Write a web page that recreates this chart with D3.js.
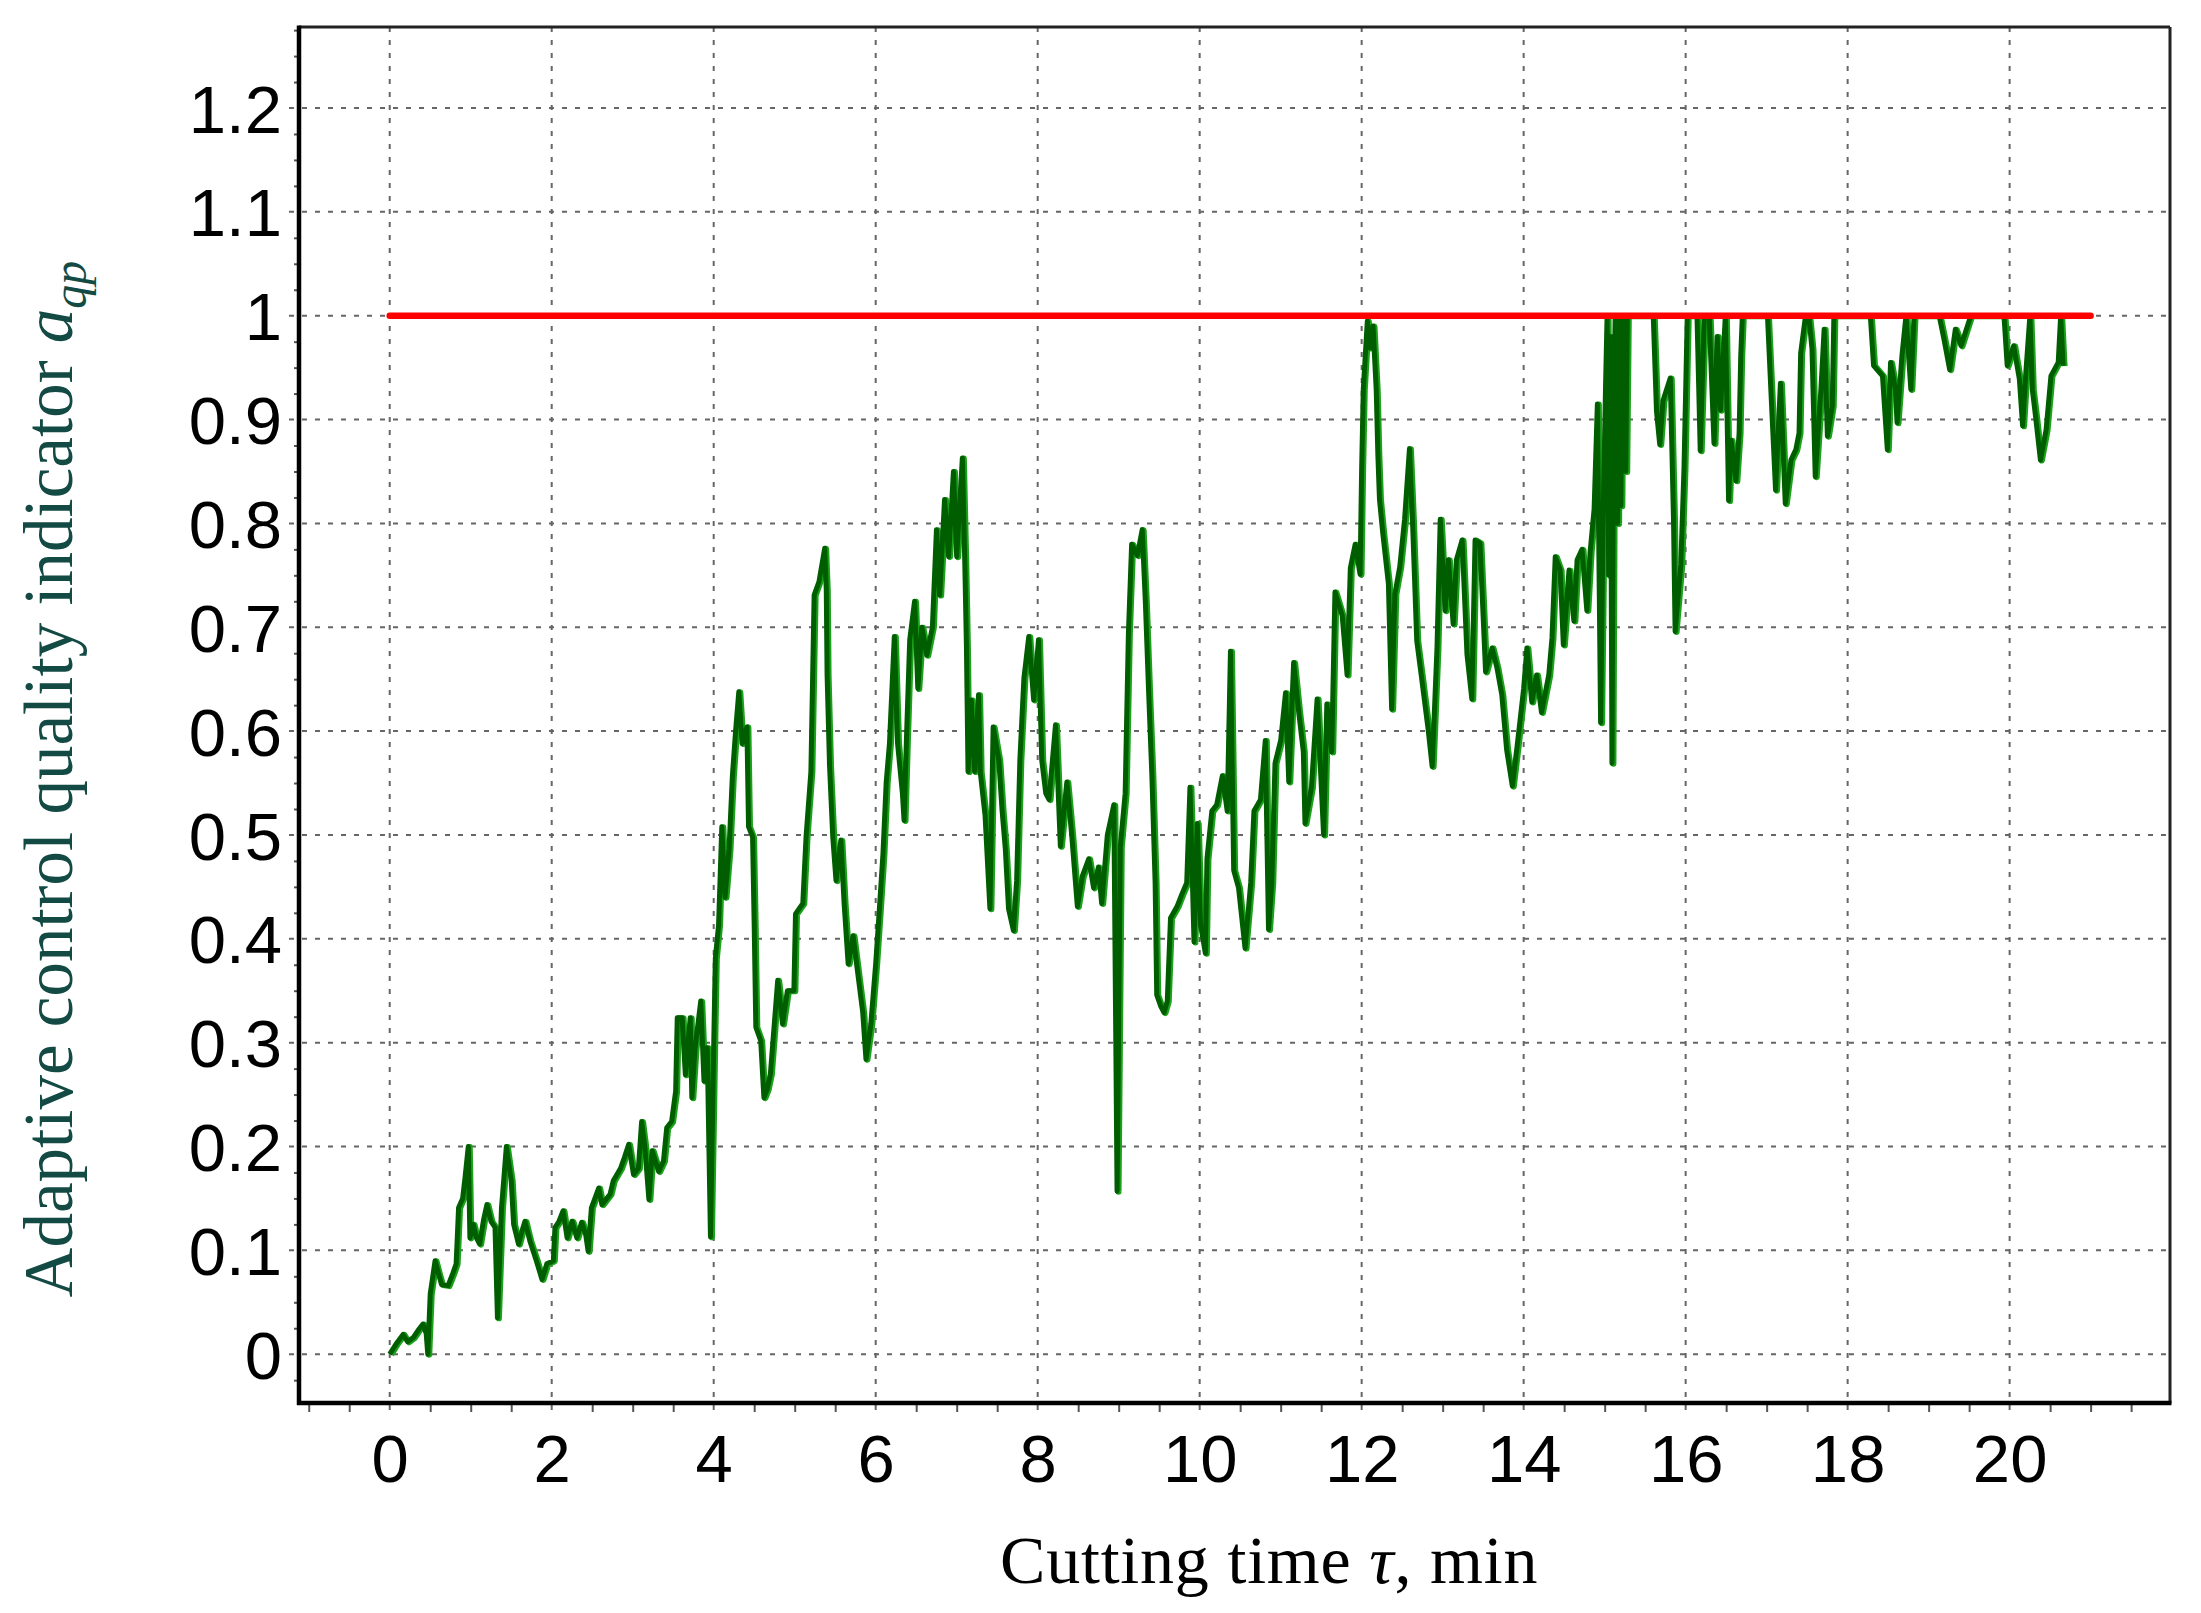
<!DOCTYPE html>
<html>
<head>
<meta charset="utf-8">
<script src="https://cdn.jsdelivr.net/npm/d3@7"></script>
<style>
  body { margin: 0; background: #fff; }
  svg { display: block; }
</style>
</head>
<body>
<div id="vis1"></div>
<script>
const FRAME_WIDTH = 2201;
const FRAME_HEIGHT = 1613;
const MARGINS = {left: 299, right: 31, top: 27, bottom: 210};

// cutting time (min) and adaptive control quality indicator a_qp
const times = [
  0.00, 0.08, 0.165, 0.22, 0.29, 0.36, 0.41, 0.45, 0.47, 0.50, 0.56, 0.60, 0.64, 0.72, 0.78, 0.82, 0.85, 0.90, 0.93, 0.97,
  0.99, 1.03, 1.07, 1.11, 1.16, 1.20, 1.25, 1.30, 1.33, 1.38, 1.41, 1.44, 1.50, 1.53, 1.59, 1.63, 1.67, 1.73, 1.81, 1.88,
  1.94, 2.02, 2.04, 2.09, 2.14, 2.19, 2.25, 2.31, 2.37, 2.42, 2.45, 2.49, 2.58, 2.62, 2.72, 2.76, 2.85, 2.90, 2.95, 3.01,
  3.07, 3.11, 3.15, 3.20, 3.24, 3.32, 3.38, 3.42, 3.48, 3.53, 3.55, 3.61, 3.65, 3.71, 3.73, 3.77, 3.84, 3.88, 3.92, 3.96,
  4.00, 4.02, 4.06, 4.10, 4.14, 4.19, 4.23, 4.27, 4.31, 4.35, 4.41, 4.43, 4.48, 4.50, 4.52, 4.58, 4.62, 4.66, 4.70, 4.75,
  4.79, 4.85, 4.91, 4.99, 5.01, 5.10, 5.14, 5.20, 5.24, 5.30, 5.37, 5.39, 5.40, 5.43, 5.47, 5.51, 5.57, 5.61, 5.66, 5.72,
  5.78, 5.84, 5.88, 5.94, 6.00, 6.05, 6.09, 6.13, 6.17, 6.23, 6.27, 6.33, 6.35, 6.38, 6.42, 6.48, 6.52, 6.57, 6.63, 6.70,
  6.75, 6.79, 6.85, 6.90, 6.96, 7.00, 7.07, 7.10, 7.12, 7.14, 7.18, 7.22, 7.27, 7.29, 7.35, 7.41, 7.45, 7.52, 7.56, 7.60,
  7.64, 7.70, 7.74, 7.78, 7.83, 7.89, 7.95, 8.01, 8.05, 8.10, 8.14, 8.22, 8.28, 8.36, 8.42, 8.49, 8.55, 8.63, 8.69, 8.75,
  8.79, 8.86, 8.94, 8.98, 9.02, 9.08, 9.12, 9.16, 9.23, 9.29, 9.33, 9.37, 9.41, 9.45, 9.47, 9.52, 9.56, 9.60, 9.64, 9.72,
  9.78, 9.84, 9.88, 9.93, 9.97, 10.01, 10.07, 10.09, 10.15, 10.21, 10.28, 10.34, 10.38, 10.42, 10.48, 10.56, 10.63, 10.67, 10.75, 10.81,
  10.85, 10.89, 10.93, 11.00, 11.06, 11.10, 11.16, 11.22, 11.28, 11.30, 11.38, 11.45, 11.53, 11.57, 11.63, 11.67, 11.76, 11.82, 11.86, 11.92,
  11.98, 12.00, 12.02, 12.07, 12.10, 12.14, 12.18, 12.20, 12.22, 12.26, 12.33, 12.37, 12.41, 12.47, 12.53, 12.59, 12.63, 12.68, 12.74, 12.82,
  12.87, 12.93, 12.97, 13.03, 13.07, 13.13, 13.17, 13.24, 13.30, 13.36, 13.40, 13.46, 13.53, 13.61, 13.67, 13.73, 13.79, 13.86, 13.92, 14.00,
  14.04, 14.10, 14.16, 14.22, 14.31, 14.35, 14.39, 14.45, 14.49, 14.56, 14.62, 14.66, 14.72, 14.78, 14.82, 14.87, 14.91, 14.95, 14.98, 15.01,
  15.03, 15.05, 15.07, 15.09, 15.11, 15.13, 15.16, 15.18, 15.20, 15.22, 15.26, 15.28, 15.60, 15.64, 15.68, 15.72, 15.81, 15.85, 15.87, 15.94,
  15.98, 16.02, 16.14, 16.16, 16.18, 16.23, 16.29, 16.35, 16.39, 16.43, 16.49, 16.53, 16.56, 16.62, 16.66, 16.68, 16.70, 17.01, 17.05, 17.11,
  17.17, 17.23, 17.30, 17.36, 17.40, 17.42, 17.48, 17.52, 17.56, 17.60, 17.67, 17.71, 17.75, 17.81, 17.83, 18.28, 18.32, 18.43, 18.49, 18.53,
  18.59, 18.61, 18.67, 18.72, 18.78, 18.82, 19.13, 19.19, 19.26, 19.33, 19.40, 19.52, 19.93, 19.97, 20.05, 20.12, 20.16, 20.20, 20.25, 20.28,
  20.32, 20.38, 20.45, 20.51, 20.60, 20.63, 20.66
];
const aqp = [
  0.000, 0.010, 0.019, 0.012, 0.016, 0.024, 0.029, 0.020, 0.000, 0.058, 0.090, 0.078, 0.067, 0.066, 0.078, 0.087, 0.141, 0.150, 0.170, 0.200,
  0.112, 0.125, 0.112, 0.106, 0.130, 0.144, 0.128, 0.122, 0.035, 0.141, 0.170, 0.200, 0.167, 0.125, 0.106, 0.118, 0.128, 0.109, 0.090, 0.072,
  0.087, 0.090, 0.122, 0.128, 0.138, 0.112, 0.128, 0.112, 0.127, 0.115, 0.099, 0.141, 0.160, 0.144, 0.154, 0.167, 0.179, 0.190, 0.202, 0.173,
  0.179, 0.224, 0.199, 0.149, 0.196, 0.176, 0.186, 0.218, 0.224, 0.253, 0.324, 0.324, 0.269, 0.324, 0.247, 0.295, 0.340, 0.263, 0.295, 0.113,
  0.297, 0.381, 0.413, 0.508, 0.440, 0.487, 0.556, 0.600, 0.638, 0.588, 0.604, 0.508, 0.498, 0.413, 0.315, 0.302, 0.247, 0.255, 0.270, 0.320,
  0.360, 0.318, 0.350, 0.350, 0.424, 0.434, 0.498, 0.561, 0.731, 0.744, 0.776, 0.736, 0.654, 0.567, 0.498, 0.456, 0.495, 0.434, 0.376, 0.403,
  0.366, 0.329, 0.284, 0.318, 0.376, 0.434, 0.482, 0.551, 0.588, 0.691, 0.588, 0.540, 0.514, 0.593, 0.688, 0.725, 0.641, 0.700, 0.673, 0.700,
  0.794, 0.731, 0.823, 0.768, 0.850, 0.768, 0.863, 0.762, 0.683, 0.561, 0.630, 0.561, 0.635, 0.561, 0.519, 0.429, 0.604, 0.572, 0.524, 0.487,
  0.429, 0.408, 0.456, 0.572, 0.651, 0.691, 0.630, 0.688, 0.572, 0.540, 0.534, 0.606, 0.489, 0.551, 0.500, 0.431, 0.460, 0.477, 0.449, 0.469,
  0.434, 0.500, 0.529, 0.157, 0.489, 0.540, 0.694, 0.780, 0.769, 0.794, 0.723, 0.637, 0.557, 0.454, 0.346, 0.335, 0.329, 0.340, 0.420, 0.431,
  0.443, 0.454, 0.546, 0.397, 0.511, 0.414, 0.386, 0.477, 0.523, 0.529, 0.557, 0.523, 0.677, 0.466, 0.449, 0.391, 0.454, 0.523, 0.534, 0.591,
  0.409, 0.454, 0.569, 0.591, 0.637, 0.551, 0.666, 0.620, 0.580, 0.511, 0.546, 0.631, 0.500, 0.626, 0.580, 0.734, 0.711, 0.654, 0.757, 0.780,
  0.751, 0.854, 0.929, 0.995, 0.969, 0.990, 0.928, 0.866, 0.823, 0.791, 0.742, 0.621, 0.732, 0.758, 0.804, 0.872, 0.797, 0.687, 0.651, 0.602,
  0.566, 0.680, 0.804, 0.716, 0.765, 0.703, 0.765, 0.784, 0.674, 0.631, 0.784, 0.781, 0.657, 0.680, 0.661, 0.635, 0.582, 0.547, 0.586, 0.641,
  0.680, 0.628, 0.654, 0.618, 0.654, 0.690, 0.768, 0.755, 0.683, 0.755, 0.706, 0.765, 0.775, 0.716, 0.772, 0.814, 0.915, 0.608, 0.800, 0.928,
  1.000, 0.750, 0.980, 0.569, 0.900, 1.000, 0.800, 1.000, 0.817, 1.000, 0.850, 1.000, 1.000, 0.908, 0.876, 0.918, 0.940, 0.804, 0.696, 0.760,
  0.854, 1.000, 1.000, 0.935, 0.870, 1.000, 1.000, 0.877, 0.980, 0.909, 1.000, 0.822, 0.880, 0.841, 0.887, 0.961, 1.000, 1.000, 0.932, 0.832,
  0.935, 0.819, 0.861, 0.871, 0.887, 0.964, 1.000, 1.000, 0.968, 0.845, 0.929, 0.987, 0.884, 0.913, 1.000, 1.000, 0.952, 0.942, 0.871, 0.955,
  0.929, 0.897, 0.961, 1.000, 0.929, 1.000, 1.000, 0.977, 0.948, 0.987, 0.971, 1.000, 1.000, 0.952, 0.971, 0.939, 0.894, 0.945, 1.000, 0.929,
  0.903, 0.861, 0.890, 0.942, 0.955, 1.000, 0.952
];

// limit line a_qp = 1
const limitTimes = [0, 21];
const limitValues = [1, 1];

const xTicks = [0, 2, 4, 6, 8, 10, 12, 14, 16, 18, 20];
const yTicks = [0, 0.1, 0.2, 0.3, 0.4, 0.5, 0.6, 0.7, 0.8, 0.9, 1, 1.1, 1.2];
const xDomain = [-1.12, 21.98];
const yDomain = [-0.047, 1.278];

const series = times.map((t, i) => ({t: t, v: aqp[i]}));
const limit = limitTimes.map((t, i) => ({t: t, v: limitValues[i]}));

const plotLeft = MARGINS.left, plotRight = FRAME_WIDTH - MARGINS.right;
const plotTop = MARGINS.top, plotBottom = FRAME_HEIGHT - MARGINS.bottom;

const FRAME1 = d3.select("#vis1")
  .append("svg")
    .attr("width", FRAME_WIDTH)
    .attr("height", FRAME_HEIGHT);

const x = d3.scaleLinear().domain(xDomain).range([plotLeft, plotRight]);
const y = d3.scaleLinear().domain(yDomain).range([plotBottom, plotTop]);

// minor ticks
const xMinor = d3.range(-1, 22.01, 0.5).filter(d => d % 2 !== 0);
const yMinor = d3.range(-0.025, 1.276, 0.025).filter(d => Math.abs(d * 10 - Math.round(d * 10)) > 1e-6);

FRAME1.append("g")
    .attr("transform", `translate(0,${plotBottom})`)
    .call(d3.axisBottom(x).tickValues(xMinor).tickSize(9).tickFormat(""))
    .call(g => g.select(".domain").remove())
    .selectAll("line").attr("stroke", "#555").attr("stroke-width", 2);

FRAME1.append("g")
    .attr("transform", `translate(${plotLeft},0)`)
    .call(d3.axisLeft(y).tickValues(yMinor).tickSize(5).tickFormat(""))
    .call(g => g.select(".domain").remove())
    .selectAll("line").attr("stroke", "#555").attr("stroke-width", 2);

// dashed grid, running a little past the axes as major ticks
const grid = FRAME1.append("g")
    .attr("stroke", "#666")
    .attr("stroke-width", 2)
    .attr("stroke-dasharray", "5,8");

grid.selectAll(".vgrid")
  .data(xTicks)
  .enter().append("line")
    .attr("x1", d => x(d)).attr("x2", d => x(d))
    .attr("y1", plotTop).attr("y2", plotBottom + 14);

grid.selectAll(".hgrid")
  .data(yTicks)
  .enter().append("line")
    .attr("y1", d => y(d)).attr("y2", d => y(d))
    .attr("x1", plotLeft - 10).attr("x2", plotRight);

// tick labels
FRAME1.append("g")
    .attr("transform", `translate(0,${plotBottom})`)
    .call(d3.axisBottom(x).tickValues(xTicks).tickSize(0).tickPadding(0))
    .call(g => g.select(".domain").remove())
    .selectAll("text")
      .attr("y", 79)
      .attr("dy", null)
      .attr("fill", "#000")
      .style("font-family", "'Liberation Sans', Arial, sans-serif")
      .style("font-size", "67px");

FRAME1.append("g")
    .attr("transform", `translate(${plotLeft},0)`)
    .call(d3.axisLeft(y).tickValues(yTicks).tickSize(0).tickPadding(17).tickFormat(d => String(d)))
    .call(g => g.select(".domain").remove())
    .selectAll("text")
      .attr("dy", "0.36em")
      .attr("fill", "#000")
      .style("font-family", "'Liberation Sans', Arial, sans-serif")
      .style("font-size", "67px");

// measured series
const line = d3.line().x(d => x(d.t)).y(d => y(d.v));

FRAME1.append("path")
    .datum(series)
    .attr("d", line)
    .attr("transform", "translate(1.5,0.5)")
    .attr("fill", "none")
    .attr("stroke", "#1aa31a")
    .attr("stroke-width", 6)
    .attr("stroke-linejoin", "round");

FRAME1.append("path")
    .datum(series)
    .attr("d", line)
    .attr("fill", "none")
    .attr("stroke", "#005d00")
    .attr("stroke-width", 5)
    .attr("stroke-linejoin", "round");

FRAME1.append("path")
    .datum(limit)
    .attr("d", line)
    .attr("fill", "none")
    .attr("stroke", "#ff0000")
    .attr("stroke-width", 6.5)
    .attr("stroke-linecap", "round");

// frame: heavy left/bottom, lighter top/right
FRAME1.append("line").attr("x1", plotLeft).attr("x2", plotRight).attr("y1", plotTop).attr("y2", plotTop)
    .attr("stroke", "#222").attr("stroke-width", 3);
FRAME1.append("line").attr("x1", plotRight).attr("x2", plotRight).attr("y1", plotTop).attr("y2", plotBottom)
    .attr("stroke", "#222").attr("stroke-width", 3);
FRAME1.append("line").attr("x1", plotLeft).attr("x2", plotLeft).attr("y1", plotTop - 1.5).attr("y2", plotBottom + 2)
    .attr("stroke", "#000").attr("stroke-width", 4.5);
FRAME1.append("line").attr("x1", plotLeft - 2).attr("x2", plotRight + 1.5).attr("y1", plotBottom).attr("y2", plotBottom)
    .attr("stroke", "#000").attr("stroke-width", 4.5);

// axis titles
const xTitle = FRAME1.append("text")
    .attr("x", 1000)
    .attr("y", 1583)
    .attr("fill", "#000")
    .style("font-family", "'Liberation Serif', 'Times New Roman', serif")
    .style("font-size", "68px")
    .style("letter-spacing", "0.8px");
xTitle.append("tspan").text("Cutting time ");
xTitle.append("tspan").style("font-style", "italic").text("τ");
xTitle.append("tspan").text(", min");

const yTitle = FRAME1.append("text")
    .attr("transform", "translate(72,779) rotate(-90)")
    .attr("text-anchor", "middle")
    .attr("fill", "#134a44")
    .style("font-family", "'Liberation Serif', 'Times New Roman', serif")
    .style("font-size", "69px");
yTitle.append("tspan").text("Adaptive control quality indicator ");
yTitle.append("tspan").style("font-style", "italic").text("a");
yTitle.append("tspan").style("font-style", "italic").style("font-size", "48px")
    .attr("dy", "14").text("qp");
</script>
</body>
</html>
